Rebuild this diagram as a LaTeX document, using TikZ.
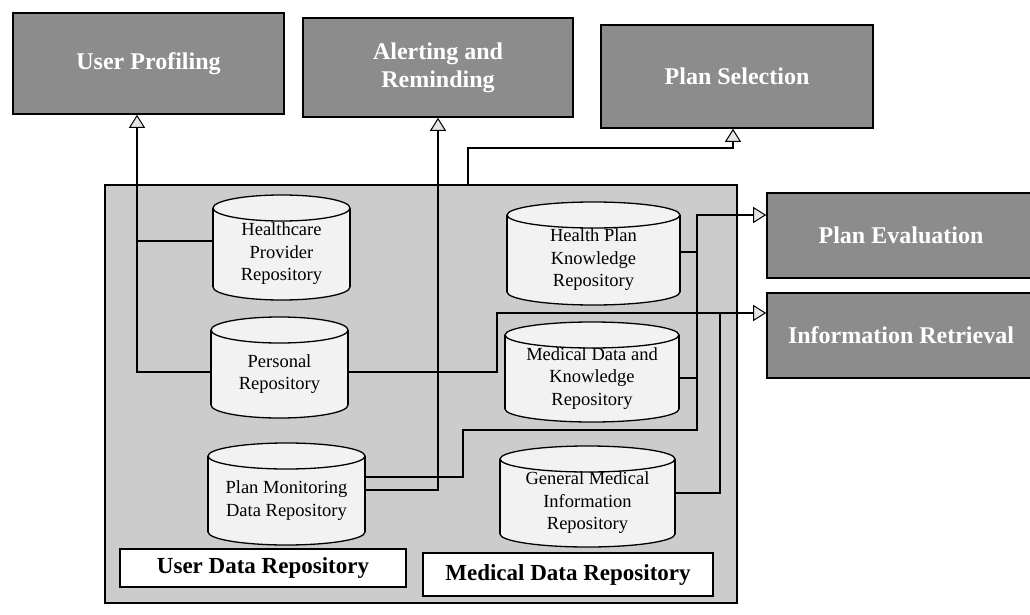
\documentclass[tikz,border=0pt]{standalone}
\usepackage{fontspec}
\setmainfont{Liberation Serif}
\usetikzlibrary{arrows.meta,calc}
\definecolor{topfill}{gray}{0.55}
\definecolor{contfill}{gray}{0.80}
\definecolor{cylfill}{gray}{0.95}
\tikzset{
  topbox/.style={draw=black, line width=1.6pt, fill=topfill, text=white, inner sep=0pt,
    font=\bfseries\fontsize{24}{28}\selectfont, align=center},
  labelbox/.style={draw=black, line width=1.4pt, fill=white, inner sep=0pt,
    font=\bfseries\fontsize{23}{26}\selectfont},
  contbox/.style={draw=black, line width=1.3pt, fill=contfill, inner sep=0pt},
  cyltext/.style={draw=none, inner sep=0pt, align=center,
    font=\fontsize{18.5}{22.5}\selectfont},
  cylline/.style={draw=black, line width=1.3pt},
  conn/.style={draw=black, line width=1.1pt},
  tri/.style={-{Triangle[length=13pt, width=16pt, fill=gray!20, line width=1pt]}}
}
\newcommand{\mycyl}[6]{%
  \pgfmathsetmacro{\cylcx}{(#2+#4)/2}%
  \pgfmathsetmacro{\cylrx}{(#4-#2)/2}%
  \pgfmathsetmacro{\cylyt}{#3+13}%
  \pgfmathsetmacro{\cylyb}{#5-13}%
  \pgfmathsetmacro{\cylcy}{(#3+13+#5)/2}%
  \pgfmathsetmacro{\cylw}{#4-#2}%
  \pgfmathsetmacro{\cylh}{#5-#3-13}%
  \fill[cylfill] (#2,\cylyt) rectangle (#4,\cylyb);
  \fill[cylfill] (\cylcx,\cylyb) ellipse [x radius=\cylrx, y radius=13];
  \begin{scope}
    \clip (#2-3,\cylyb) rectangle (#4+3,#5+3);
    \draw[cylline] (\cylcx,\cylyb) ellipse [x radius=\cylrx, y radius=13];
  \end{scope}
  \draw[cylline] (#2,\cylyt) -- (#2,\cylyb);
  \draw[cylline] (#4,\cylyt) -- (#4,\cylyb);
  \draw[cylline, fill=cylfill] (\cylcx,\cylyt) ellipse [x radius=\cylrx, y radius=13];
  \node[cyltext, minimum width=\cylw pt, minimum height=\cylh pt] (#1) at (\cylcx,\cylcy) {#6};
}
\begin{document}
\begin{tikzpicture}[x=1pt,y=-1pt]
\useasboundingbox (0,0) rectangle (1030,615);
\fill[white] (0,0) rectangle (1030,615);

% top boxes
\node[topbox, minimum width=271pt, minimum height=101pt] (up) at (148.5,63.5) {User Profiling};
\node[topbox, minimum width=270pt, minimum height=99pt] (ar) at (438,67.5) {Alerting and\\Reminding};
\node[topbox, minimum width=272pt, minimum height=103pt] (ps) at (737,76.5) {Plan Selection};
\node[topbox, minimum width=268pt, minimum height=85pt] (pe) at (901,235.5) {Plan Evaluation};
\node[topbox, minimum width=268pt, minimum height=85pt] (ir) at (901,335.5) {Information Retrieval};

% container
\node[contbox, minimum width=632pt, minimum height=418pt] (cont) at (421,394) {};

% cylinders
\mycyl{hp}{213}{195}{350}{300}{Healthcare\\Provider\\Repository}
\mycyl{per}{211}{317}{348}{418}{Personal\\Repository}
\mycyl{pm}{208}{443}{365}{545}{Plan Monitoring\\Data Repository}
\mycyl{hk}{507}{202}{680}{305}{Health Plan\\Knowledge\\Repository}
\mycyl{md}{505}{322}{679}{422}{Medical Data and\\Knowledge\\Repository}
\mycyl{gm}{500}{446}{675}{547}{General Medical\\Information\\Repository}

% bottom labels
\node[labelbox, minimum width=286pt, minimum height=38pt] (udr) at (263,568) {User Data Repository};
\node[labelbox, minimum width=290pt, minimum height=43pt] (mdr) at (568,574.5) {Medical Data Repository};

% junctions
\coordinate (a1) at (137,241);
\coordinate (a2) at (137,372);
\coordinate (b1) at (438,490);
\coordinate (c1) at (463,477);
\coordinate (c2) at (463,430);
\coordinate (c3) at (697,430);
\coordinate (c4) at (697,215);
\coordinate (c5) at (697,252);
\coordinate (c6) at (697,378);
\coordinate (d1) at (497,372);
\coordinate (d2) at (497,313);
\coordinate (d3) at (720,493);
\coordinate (d4) at (720,313);
\coordinate (e1) at (468,148);
\coordinate (e2) at (733,148);

% User Profiling
\draw[conn] (hp.west |- a1) -- (a1);
\draw[conn, tri] (per.west |- a2) -- (a2) -- (up.south -| a2);
% Alerting and Reminding
\draw[conn, tri] (pm.east |- b1) -- (b1) -- (ar.south -| b1);
% Plan Evaluation
\draw[conn, tri] (pm.east |- c1) -- (c1) -- (c2) -- (c3) -- (c4) -- (pe.west |- c4);
\draw[conn] (hk.east |- c5) -- (c5);
\draw[conn] (md.east |- c6) -- (c6);
% Information Retrieval
\draw[conn, tri] (per.east |- d1) -- (d1) -- (d2) -- (ir.west |- d2);
\draw[conn] (gm.east |- d3) -- (d3) -- (d4);
% Plan Selection
\draw[conn, tri] (cont.north -| e1) -- (e1) -- (e2) -- (ps.south -| e2);
\end{tikzpicture}
\end{document}
